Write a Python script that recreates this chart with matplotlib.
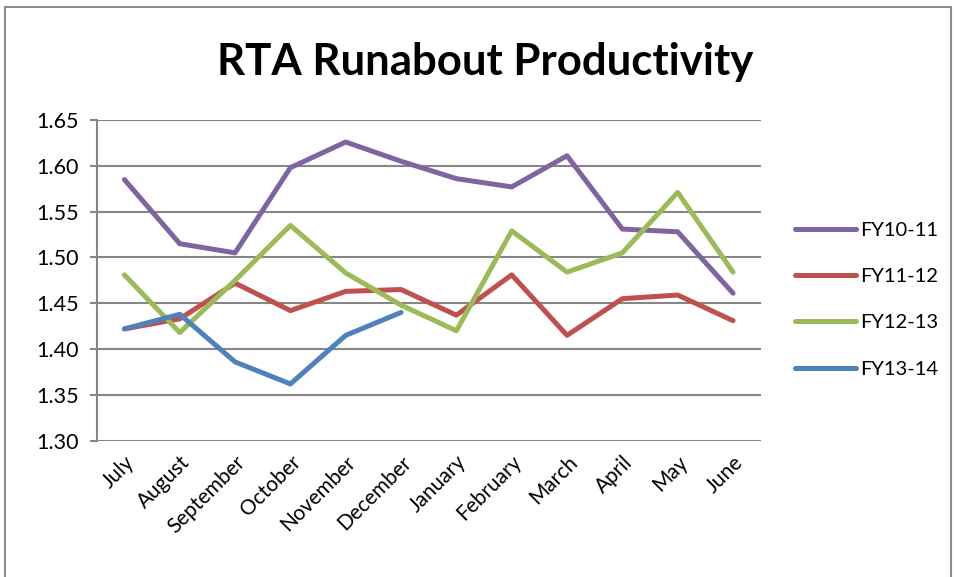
import matplotlib.pyplot as plt
from matplotlib.patches import Rectangle

months = ["July", "August", "September", "October", "November", "December",
          "January", "February", "March", "April", "May", "June"]

fy10_11 = [1.585, 1.515, 1.505, 1.598, 1.626, 1.605, 1.586, 1.577, 1.611, 1.531, 1.528, 1.461]
fy11_12 = [1.422, 1.433, 1.472, 1.442, 1.463, 1.465, 1.437, 1.481, 1.415, 1.455, 1.459, 1.431]
fy12_13 = [1.481, 1.418, 1.475, 1.535, 1.483, 1.448, 1.420, 1.529, 1.484, 1.505, 1.571, 1.484]
fy13_14 = [1.422, 1.438, 1.386, 1.362, 1.415, 1.440]

series = [("FY10-11", fy10_11, "#8064A2"),
          ("FY11-12", fy11_12, "#C0504D"),
          ("FY12-13", fy12_13, "#9BBB59"),
          ("FY13-14", fy13_14, "#4F81BD")]

plt.rcParams['font.family'] = ['Lato', 'DejaVu Sans']

fig = plt.figure(figsize=(9.56, 5.77), dpi=100)
ax = fig.add_axes([0.1012, 0.2362, 0.6945, 0.5558])

# chart frame
fig.patches.append(Rectangle((5 / 956, -0.01), 946 / 956, 1 - 7 / 577 + 0.01,
                             transform=fig.transFigure, fill=False,
                             edgecolor="#8c8c8c", lw=1.5))

for name, vals, col in series:
    ax.plot(range(len(vals)), vals, color=col, lw=3.6, label=name,
            solid_joinstyle="round", solid_capstyle="round")

ax.set_xlim(-0.5, 11.5)
ax.set_ylim(1.30, 1.65)
ax.set_yticks([1.30 + 0.05 * i for i in range(8)])
ax.set_yticklabels(["%.2f" % (1.30 + 0.05 * i) for i in range(8)], fontsize=15.5)
ax.set_xticks(range(12))
ax.set_xticklabels(months, rotation=45, ha="right", rotation_mode="anchor", fontsize=15)
ax.tick_params(axis="x", length=0, pad=8)
ax.tick_params(axis="y", length=5, color="#868686", width=1.5, pad=8)
ax.grid(axis="y", color="#868686", lw=1.5)
ax.set_axisbelow(True)
for s in ["top", "right", "bottom"]:
    ax.spines[s].set_visible(False)
ax.spines["left"].set_color("#868686")
ax.spines["left"].set_linewidth(1.5)

fig.text(0.508, 0.893, "RTA Runabout Productivity", ha="center", va="center",
         fontsize=31.5, fontweight="bold")

ax.legend(loc="center left", bbox_to_anchor=(1.025, 0.44), frameon=False,
          fontsize=14.5, handlelength=3.0, handletextpad=0.2, labelspacing=1.45)

fig.savefig("out.png", dpi=100)
